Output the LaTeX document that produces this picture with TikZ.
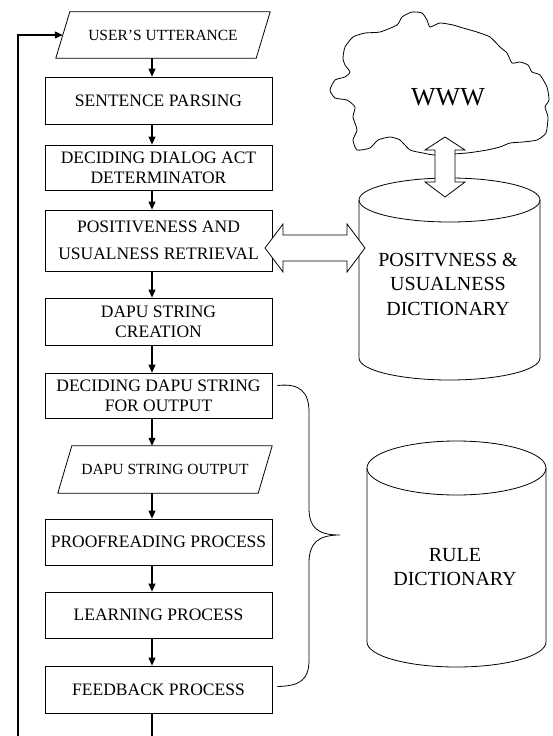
\documentclass[tikz,border=0pt]{standalone}
\usepackage{fontspec}
\setmainfont{Liberation Serif}
\usetikzlibrary{arrows.meta}

\tikzset{
    box/.style={draw, line width=0.8pt, minimum width=227pt, inner sep=0pt, align=center,
        font=\fontsize{17.5}{20}\selectfont},
    io/.style={minimum width=200pt, minimum height=46pt, inner sep=0pt,
        font=\fontsize{15.5}{18}\selectfont},
    slant/.style={draw, line width=0.8pt},
    flow/.style={-{Triangle[length=8pt,width=7pt]}, line width=1.1pt},
    fat/.style={draw, fill=white, line width=0.8pt},
    dbtext/.style={align=center, font=\fontsize{20}{24.5}\selectfont}
}

\begin{document}
\begin{tikzpicture}[x=1pt, y=-1pt]
    \useasboundingbox (0,0) rectangle (552,736);

    % flow of steps
    \node[io] (utt) at (163,35) {USER'S UTTERANCE};
    \draw[slant] ([xshift=7pt]utt.north west) -- ([xshift=7pt]utt.north east)
        -- ([xshift=-7pt]utt.south east) -- ([xshift=-7pt]utt.south west) -- cycle;
    \node[box, minimum height=47pt] (parse) at (158.5,100.5) {SENTENCE PARSING};
    \node[box, minimum height=45pt] (act) at (158.5,167.5) {DECIDING DIALOG ACT\\DETERMINATOR};
    \node[box, minimum height=61pt, font=\fontsize{17.5}{27}\selectfont] (pos) at (158.5,240.5) {POSITIVENESS AND\\USUALNESS RETRIEVAL};
    \node[box, minimum height=47pt] (dapu) at (158.5,321.5) {DAPU STRING\\CREATION};
    \node[box, minimum height=45pt] (dec) at (158.5,395.5) {DECIDING DAPU STRING\\FOR OUTPUT};
    \node[io, minimum height=47pt] (out) at (165,469.5) {DAPU STRING OUTPUT};
    \draw[slant] ([xshift=7pt]out.north west) -- ([xshift=7pt]out.north east)
        -- ([xshift=-7pt]out.south east) -- ([xshift=-7pt]out.south west) -- cycle;
    \node[box, minimum height=46pt] (proof) at (158.5,542) {PROOFREADING PROCESS};
    \node[box, minimum height=46pt] (learn) at (158.5,615) {LEARNING PROCESS};
    \node[box, minimum height=47pt] (fb) at (158.5,689.5) {FEEDBACK PROCESS};

    \coordinate (spine) at (152,0);
    \coordinate (turn) at (0,744);
    \coordinate (loop) at (18,0);

    \draw[flow] (utt.south -| spine) -- (parse.north -| spine);
    \draw[flow] (parse.south -| spine) -- (act.north -| spine);
    \draw[flow] (act.south -| spine) -- (pos.north -| spine);
    \draw[flow] (pos.south -| spine) -- (dapu.north -| spine);
    \draw[flow] (dapu.south -| spine) -- (dec.north -| spine);
    \draw[flow] (dec.south -| spine) -- (out.north -| spine);
    \draw[flow] (out.south -| spine) -- (proof.north -| spine);
    \draw[flow] (proof.south -| spine) -- (learn.north -| spine);
    \draw[flow] (learn.south -| spine) -- (fb.north -| spine);
    \draw[flow] (fb.south -| spine) -- (spine |- turn) -- (turn -| loop) |- (utt.west);

    % cloud
    \draw[line width=0.8pt, fill=white] plot[smooth cycle, tension=0.35] coordinates {
        (343,58) (345,47) (353,37) (365,33) (380,32) (397,25) (402,17) (412,12) (422,13)
        (427,20) (430,27) (440,23) (453,25) (463,28) (477,32) (490,37) (500,47) (507,53)
        (512,63) (520,62) (528,65) (532,72) (540,75) (547,87) (549,100) (545,107) (548,117)
        (546,133) (537,140) (523,142) (510,143) (500,147) (487,150) (467,153) (435,155)
        (423,153) (410,150) (400,140) (390,137) (378,140) (370,148) (357,150) (353,140)
        (357,130) (353,117) (355,107) (347,100) (335,98) (330,90) (335,80) (345,77)
        (350,72) (345,65)};
    \node[font=\fontsize{26}{30}\selectfont] (www) at (448,97) {WWW};

    % positiveness dictionary
    \draw[line width=0.8pt] (449.5,200) ellipse [x radius=90.5, y radius=22];
    \draw[line width=0.8pt] (359,200) -- (359,358) arc[start angle=180, end angle=0, x radius=90.5, y radius=22] -- (540,200);
    \node[dbtext] (posdb) at (448,284) {POSITVNESS \&\\USUALNESS\\DICTIONARY};

    % rule dictionary
    \draw[line width=0.8pt] (456.5,468) ellipse [x radius=89.5, y radius=27];
    \draw[line width=0.8pt] (367,468) -- (367,642) arc[start angle=180, end angle=0, x radius=89.5, y radius=25] -- (546,468);
    \node[dbtext] (ruledb) at (455,567) {RULE\\DICTIONARY};

    % double arrows
    \draw[fat] (445,137) -- (465,150) -- (455,150) -- (455,182) -- (465,182) -- (445,197)
        -- (425,182) -- (435,182) -- (435,150) -- (425,150) -- cycle;
    \draw[fat] (265,248) -- (283,224) -- (283,235) -- (347,235) -- (347,224) -- (365,248)
        -- (347,272) -- (347,261) -- (283,261) -- (283,272) -- cycle;

    % brace
    \draw[line width=0.8pt] ([xshift=5pt,yshift=10pt]dec.east) .. controls (300,383) and (309,392) .. (309,412)
        -- (309,508) .. controls (309,528) and (318,535) .. (340,535)
        .. controls (318,535) and (309,543) .. (309,563)
        -- (309,660) .. controls (309,680) and (300,686) .. ([xshift=5pt,yshift=3pt]fb.east);
\end{tikzpicture}
\end{document}
